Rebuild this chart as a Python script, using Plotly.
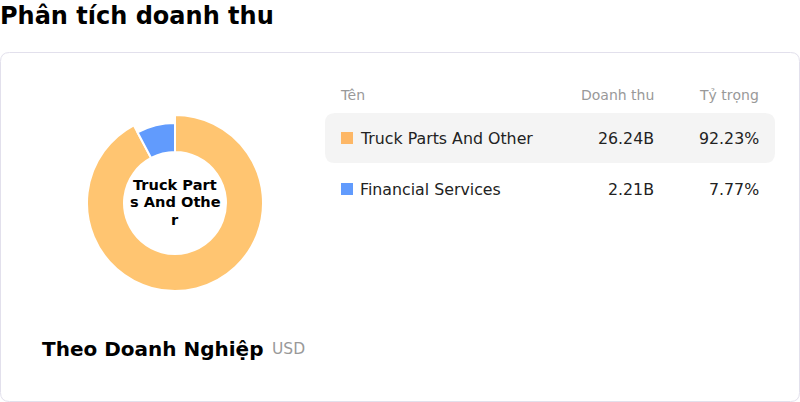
import plotly.graph_objects as go

categories = ["Truck Parts And Other", "Financial Services"]
revenue_b = [26.24, 2.21]
share_pct = [92.23, 7.77]
donut_colors = ["#ffc571", "#619bfd"]
legend_colors = ["#fdb766", "#619bfd"]
revenue_labels = ["26.24B", "2.21B"]
share_labels = ["92.23%", "7.77%"]
center_lines = ["Truck Part", "s And Othe", "r"]

W, H = 800, 402
FONT = "DejaVu Sans"

def px(x):
    return x / W

def py(y):
    return 1 - y / H

def rrect(x0, y0, x1, y1, r):
    rx, ry = r / W, r / H
    X0, X1 = px(x0), px(x1)
    Y0, Y1 = py(y0), py(y1)
    return (f"M {X0+rx},{Y0} L {X1-rx},{Y0} Q {X1},{Y0} {X1},{Y0-ry} "
            f"L {X1},{Y1+ry} Q {X1},{Y1} {X1-rx},{Y1} L {X0+rx},{Y1} "
            f"Q {X0},{Y1} {X0},{Y1+ry} L {X0},{Y0-ry} Q {X0},{Y0} {X0+rx},{Y0} Z")

fig = go.Figure()

cx, cy = 175, 203
r_big, r_small, r_in = 88, 80, 51

fig.add_trace(go.Pie(
    labels=categories, values=revenue_b, sort=False, direction="clockwise", rotation=0,
    hole=r_in / r_big,
    marker=dict(colors=[donut_colors[0], "rgba(0,0,0,0)"],
                line=dict(color=["#ffffff", "rgba(0,0,0,0)"], width=[2, 0])),
    textinfo="none", hoverinfo="label+value+percent", showlegend=False,
    domain=dict(x=[px(cx - r_big), px(cx + r_big)], y=[py(cy + r_big), py(cy - r_big)]),
))
fig.add_trace(go.Pie(
    labels=categories, values=revenue_b, sort=False, direction="clockwise", rotation=0,
    hole=r_in / r_small,
    marker=dict(colors=["rgba(0,0,0,0)", donut_colors[1]],
                line=dict(color=["rgba(0,0,0,0)", "#ffffff"], width=[0, 2])),
    textinfo="none", hoverinfo="label+value+percent", showlegend=False,
    domain=dict(x=[px(cx - r_small), px(cx + r_small)], y=[py(cy + r_small), py(cy - r_small)]),
))

shapes = [
    dict(type="path", xref="paper", yref="paper", path=rrect(0.5, 52.5, 799.5, 401.5, 9),
         line=dict(color="#e2e0ec", width=1), fillcolor="rgba(0,0,0,0)", layer="below"),
    dict(type="path", xref="paper", yref="paper", path=rrect(325, 113, 775, 163, 10),
         line=dict(width=0), fillcolor="#f4f4f4", layer="below"),
]

ann = []
LPAD, RPAD = 3, 2
def text(x, y, s, size, color, anchor="left", bold=False):
    if anchor == "left":
        x -= LPAD
    elif anchor == "right":
        x += RPAD
    ann.append(dict(x=px(x), y=py(y), xref="paper", yref="paper", text=(f"<b>{s}</b>" if bold else s),
                    showarrow=False, xanchor=anchor, yanchor="middle",
                    font=dict(family=FONT, size=size, color=color)))

text(1, 16, "Phân tích doanh thu", 24, "#000000", bold=True)
for s, y in zip(center_lines, [184.5, 201.8, 219]):
    text(cx, y, s, 14.6, "#000000", anchor="center", bold=True)

text(341, 95, "Tên", 14, "#999999")
text(654, 95, "Doanh thu", 14, "#999999", anchor="right")
text(759, 95, "Tỷ trọng", 14, "#999999", anchor="right")

row_y = [138, 189]
for i, name in enumerate(categories):
    y = row_y[i]
    shapes.append(dict(type="rect", xref="paper", yref="paper",
                       x0=px(341), x1=px(353), y0=py(y + 6), y1=py(y - 6),
                       fillcolor=legend_colors[i], line=dict(width=0)))
    text(361, y, name, 15.8, "#222222")
    text(654, y, revenue_labels[i], 15.8, "#222222", anchor="right")
    text(759, y, share_labels[i], 15.8, "#222222", anchor="right")

text(43, 349, "Theo Doanh Nghiệp", 20, "#000000", bold=True)
text(273, 349, "USD", 15.5, "#999999")

fig.update_layout(
    width=W, height=H, margin=dict(l=0, r=0, t=0, b=0),
    paper_bgcolor="#ffffff", plot_bgcolor="#ffffff",
    shapes=shapes, annotations=ann, showlegend=False,
    font=dict(family=FONT),
)

fig.write_html("out.html", config={"displayModeBar": False},
               post_script="document.body.style.margin='0';document.body.style.overflow='hidden';")
